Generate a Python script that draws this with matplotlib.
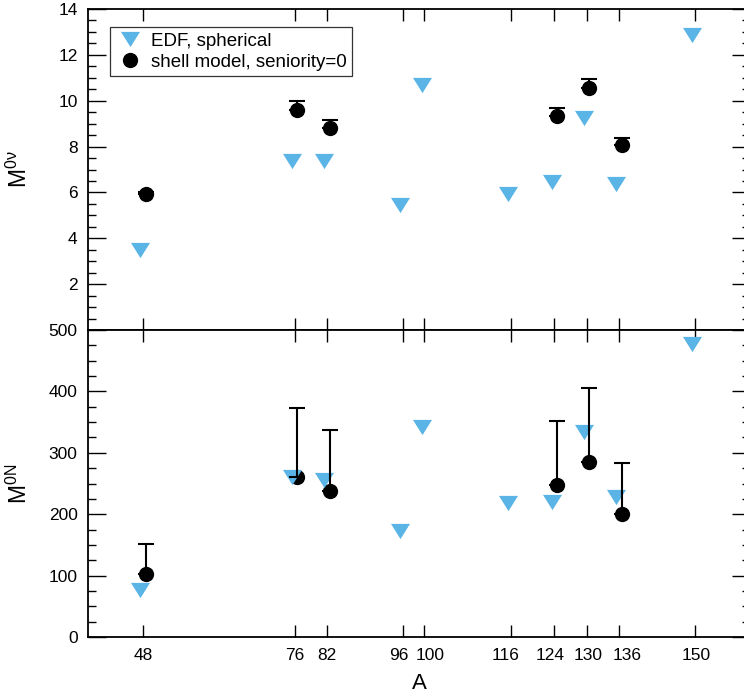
import numpy as np
import matplotlib
matplotlib.use('Agg')
import matplotlib.pyplot as plt
import matplotlib.transforms as mtransforms
from matplotlib.ticker import MultipleLocator, FixedLocator
from matplotlib.lines import Line2D

plt.rcParams['font.family'] = ['Liberation Sans', 'DejaVu Sans']
plt.rcParams['mathtext.fontset'] = 'custom'
plt.rcParams['mathtext.rm'] = 'Liberation Sans'

# nuclei (mass number A)
edf_A = [48, 76, 82, 96, 100, 116, 124, 130, 136, 150]
edf_0nu = [3.49, 7.35, 7.35, 5.45, 10.68, 5.95, 6.46, 9.26, 6.38, 12.88]
edf_0N = [76.5, 261, 255.7, 172.3, 342, 217.7, 219.5, 333.6, 228, 476.9]

sm_A = [48, 76, 82, 124, 130, 136]
sm_0nu = [5.94, 9.59, 8.83, 9.34, 10.57, 8.05]
sm_0nu_max = [6.0, 10.0, 9.17, 9.68, 10.95, 8.37]
sm_0N = [102, 261, 237, 247.6, 284.5, 200]
sm_0N_max = [151.5, 373.5, 337.6, 352.3, 405, 284]

tick_A = [48, 76, 82, 96, 100, 116, 124, 130, 136, 150]
# small horizontal nudges of the tick labels (pixels), as in the original
label_shift = [0, 0, 0, -4, 5.5, -5, -4, 1, 8, 1.5]

blue = '#5ab4e6'
tri = [(-1, 0.8), (1, 0.8), (0, -0.8)]

W, H = 744, 694
fig = plt.figure(figsize=(W / 100, H / 100), dpi=100)
ax1 = fig.add_axes([88 / W, 1 - 330 / H, 662 / W, 321 / H])
ax2 = fig.add_axes([88 / W, 1 - 637 / H, 662 / W, 307 / H])


def draw(ax, edf, sm, sm_max):
    ex = np.array(edf_A) - 0.5
    sx = np.array(sm_A) + 0.5
    up = np.array(sm_max) - np.array(sm)
    ax.errorbar(sx, sm, yerr=[np.zeros_like(up), up], fmt='none', ecolor='black',
                elinewidth=1.5, capsize=5.6, capthick=1.5, zorder=4)
    ax.plot(sx, sm, 'o', color='black', ms=11, mew=0, ls='none', zorder=2)
    ax.plot(ex, edf, marker=tri, color=blue, ms=13.7, mew=0, ls='none', zorder=3)
    ax.set_xlim(37.8, 160.2)
    ax.xaxis.set_major_locator(FixedLocator(tick_A))
    ax.tick_params(axis='x', which='major', direction='in', top=True, bottom=True,
                   length=8.6, width=1.0, labelsize=12.5, pad=8)
    ax.tick_params(axis='y', which='major', direction='in', left=True, right=True,
                   length=12.7, width=1.0, labelsize=12.5, pad=7.5)
    ax.tick_params(axis='y', which='minor', direction='in', left=True, right=True,
                   length=5.8, width=1.0)
    ax.tick_params(axis='x', which='minor', bottom=False, top=False)
    for s in ax.spines.values():
        s.set_linewidth(1.3)
    ax.yaxis.set_label_coords((32 - 88) / 662, 0.5)


draw(ax1, edf_0nu, sm_0nu, sm_0nu_max)
draw(ax2, edf_0N, sm_0N, sm_0N_max)

ax1.set_ylim(0, 14)
ax1.set_yticks([2, 4, 6, 8, 10, 12, 14])
ax1.yaxis.set_minor_locator(MultipleLocator(0.5))
ax1.tick_params(axis='x', labelbottom=False)
ax1.set_ylabel(r'M$^{\mathrm{0ν}}$', fontsize=16.5)

ax2.set_ylim(0, 500)
ax2.yaxis.set_major_locator(MultipleLocator(100))
ax2.yaxis.set_minor_locator(MultipleLocator(25))
ax2.set_ylabel(r'M$^{\mathrm{0N}}$', fontsize=16.5)
ax2.set_xlabel('A', fontsize=16, labelpad=7)

for lab, dx in zip(ax2.get_xticklabels(), label_shift):
    lab.set_transform(lab.get_transform() +
                      mtransforms.ScaledTranslation(dx / 100, 0, fig.dpi_scale_trans))

handles = [Line2D([], [], marker=tri, color=blue, ms=13.7, mew=0, ls='none'),
           Line2D([], [], marker='o', color='black', ms=11, mew=0, ls='none')]
leg = ax1.legend(handles, ['EDF, spherical', 'shell model, seniority=0'],
                 loc='upper left', bbox_to_anchor=(0.033, 0.944), borderaxespad=0,
                 fontsize=13.5, frameon=True, fancybox=False, handlelength=1.6,
                 handletextpad=0.3, borderpad=0.3, labelspacing=0.2)
leg.get_frame().set_edgecolor('black')
leg.get_frame().set_linewidth(0.9)

fig.savefig('out.png', dpi=100)
